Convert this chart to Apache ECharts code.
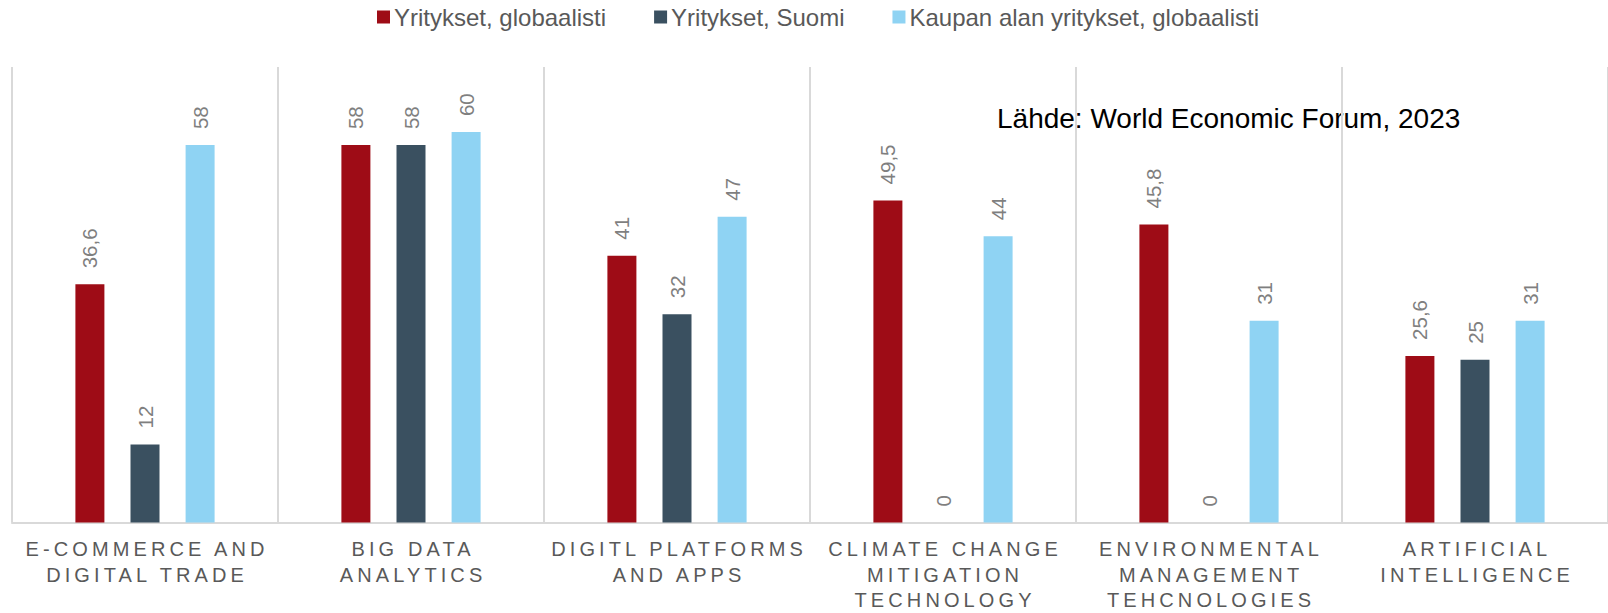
<!DOCTYPE html>
<html>
<head>
<meta charset="utf-8">
<script src="https://cdn.jsdelivr.net/npm/echarts@6/dist/echarts.min.js"></script>
<style>
html,body{margin:0;padding:0;background:#fff;}
#c{width:1608px;height:613px;}
</style>
</head>
<body>
<div id="c"></div>
<script>
const categories = [
  "E-COMMERCE AND\nDIGITAL TRADE",
  "BIG DATA\nANALYTICS",
  "DIGITL PLATFORMS\nAND APPS",
  "CLIMATE CHANGE\nMITIGATION\nTECHNOLOGY",
  "ENVIRONMENTAL\nMANAGEMENT\nTEHCNOLOGIES",
  "ARTIFICIAL\nINTELLIGENCE"
];
const seriesNames = ["Yritykset, globaalisti", "Yritykset, Suomi", "Kaupan alan yritykset, globaalisti"];
const globalValues = [36.6, 58, 41, 49.5, 45.8, 25.6];
const finlandValues = [12, 58, 32, 0, 0, 25];
const tradeValues = [58, 60, 47, 44, 31, 31];
const sourceText = "Lähde: World Economic Forum, 2023";

const colors = ["#9E0C16", "#3A5060", "#8FD3F3"];
const FONT = '"Liberation Sans", Arial, Helvetica, sans-serif';

const chart = echarts.init(document.getElementById('c'), null, {renderer: 'svg'});

function makeSeries(name, data, color) {
  return {
    name: name,
    type: 'bar',
    data: data,
    barWidth: 29,
    barGap: '90%',
    itemStyle: {color: color},
    label: {
      show: true,
      position: 'top',
      rotate: 90,
      align: 'left',
      verticalAlign: 'middle',
      distance: 16,
      fontSize: 20.5,
      fontFamily: FONT,
      color: '#7F7F7F',
      formatter: p => String(p.value).replace('.', ',')
    }
  };
}

chart.setOption({
  animation: false,
  color: colors,
  legend: {
    top: 0,
    left: 372,
    padding: 5,
    itemWidth: 13,
    itemHeight: 13,
    itemGap: 48,
    icon: 'rect',
    textStyle: {fontSize: 24, color: '#595959', fontFamily: FONT, padding: [0, 0, 0, -1]},
    data: seriesNames
  },
  grid: {left: 12, right: 0, top: 67, bottom: 87, containLabel: false},
  xAxis: {
    type: 'category',
    data: categories,
    axisTick: {show: false},
    axisLine: {lineStyle: {color: '#D9D9D9', width: 2}},
    splitLine: {show: true, lineStyle: {color: '#D9D9D9', width: 2}},
    axisLabel: {
      interval: 0,
      margin: 14,
      fontSize: 20,
      lineHeight: 25.5,
      color: '#595959',
      fontFamily: FONT
    }
  },
  yAxis: {
    type: 'value',
    min: 0,
    max: 70,
    show: false,
    splitLine: {show: false}
  },
  graphic: [{
    type: 'text',
    left: 997,
    top: 104,
    style: {text: sourceText, fontSize: 28, fill: '#000000', fontFamily: FONT}
  }],
  series: [
    makeSeries(seriesNames[0], globalValues, colors[0]),
    makeSeries(seriesNames[1], finlandValues, colors[1]),
    makeSeries(seriesNames[2], tradeValues, colors[2])
  ]
});

// letter spacing for category labels
const SPACING = 4.1;
const lineSet = new Set();
categories.forEach(c => c.split('\n').forEach(l => lineSet.add(l)));
function applySpacing() {
  document.querySelectorAll('#c svg text').forEach(t => {
    const s = t.textContent;
    if (lineSet.has(s) && !t.dataset.sp) {
      t.style.letterSpacing = SPACING + 'px';
      t.setAttribute('dx', (SPACING / 2).toFixed(2));
      t.dataset.sp = '1';
    }
  });
}
applySpacing();
chart.on('finished', applySpacing);
</script>
</body>
</html>
